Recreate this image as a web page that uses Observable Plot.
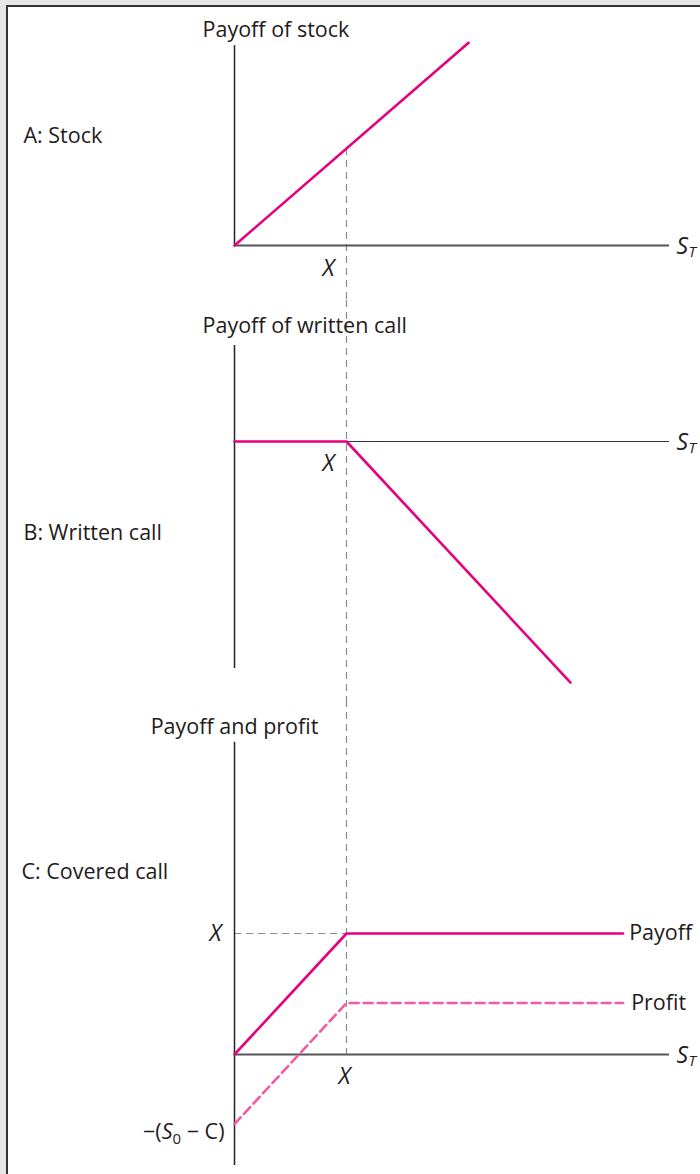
<!DOCTYPE html>
<html>
<head>
<meta charset="utf-8">
<script src="https://cdn.jsdelivr.net/npm/d3@7"></script>
<script src="https://cdn.jsdelivr.net/npm/@observablehq/plot@0.6"></script>
<style>
  html, body { margin: 0; padding: 0; }
  body { width: 700px; height: 1174px; background: #e6e6e6; position: relative; overflow: hidden; font-family: "Open Sans", sans-serif; }
  #frame { position: absolute; left: 6px; top: 5px; width: 692px; height: 1167px; background: #ffffff; border-top: 2px solid #333; border-left: 2px solid #333; }
  .panel { position: absolute; left: 0; }
</style>
</head>
<body>
<div id="frame"></div>
<div id="pA" class="panel" style="top:0px"></div>
<div id="pB" class="panel" style="top:300px"></div>
<div id="pC" class="panel" style="top:700px"></div>
<script>
// ---------- data (values in strike units) ----------
const strike = 1;                 // X
const axisEnd = 3.884;            // end of S_T axis
const panelLabels = ["A: Stock", "B: Written call", "C: Covered call"];
const panelTitles = ["Payoff of stock", "Payoff of written call", "Payoff and profit"];

// Panel A: stock
const stockST = [0, 2.09];
const stockPayoff = [0, 2.09];
const stockAxisY = [0, 2.06];

// Panel B: written call
const callST = [0, 1, 3.0];
const callPayoff = [0, 0, -2.0];
const callAxisY = [-1.884, 0.797];

// Panel C: covered call
const coveredST = [0, 1, 3.47];
const coveredPayoff = [0, 1, 1];
const coveredProfit = [-0.575, 0.425, 0.425];
const coveredAxisY = [-0.917, 2.58];
const netCost = -0.575;           // −(S0 − C)
const lineLabels = ["Payoff", "Profit"];

// scale domains for each panel
const domA = [-0.567, 2.526];
const domB = [-2.149, 1.170];
const domC = [-0.992, 2.926];

// ---------- styles ----------
const PINK = "#e6007e";
const PINK_LIGHT = "#f25aa5";
const GRAY_DASH = "#8c8c8c";
const TXT = "#1f1b1c";
const FONT = "Open Sans";
const FS = 21.5;

function pts(xs, ys) { return xs.map((x, i) => ({x, y: ys[i]})); }

function panel(height, yDomain, marks) {
  return Plot.plot({
    width: 700, height,
    marginLeft: 234, marginRight: 18, marginTop: 0, marginBottom: 0,
    x: {domain: [0, 4], axis: null},
    y: {domain: yDomain, axis: null},
    style: {background: "transparent", overflow: "visible", fontFamily: FONT, fontSize: "20px", color: TXT},
    marks
  });
}

function stLabel() {
  return [
    Plot.text([{x: axisEnd, y: 0}], {x: "x", y: "y", text: () => "S", fontStyle: "italic", fontSize: 23, textAnchor: "start", dx: 7, dy: 1, fill: TXT}),
    Plot.text([{x: axisEnd, y: 0}], {x: "x", y: "y", text: () => "T", fontStyle: "italic", fontSize: 15, textAnchor: "start", dx: 19, dy: 7, fill: TXT})
  ];
}

// ---------- Panel A ----------
const A = panel(300, domA, [
  Plot.ruleX([{x: strike, y1: strike, y2: domA[0]}], {x: "x", y1: "y1", y2: "y2", stroke: GRAY_DASH, strokeWidth: 1.2, strokeDasharray: "7,5"}),
  Plot.ruleY([0], {x1: 0, x2: axisEnd, stroke: "#555", strokeWidth: 2.2}),
  Plot.ruleX([0], {y1: stockAxisY[0], y2: stockAxisY[1], stroke: "#222", strokeWidth: 1.5}),
  Plot.line(pts(stockST, stockPayoff), {x: "x", y: "y", stroke: PINK, strokeWidth: 2.6}),
  Plot.text([{x: strike, y: 0}], {x: "x", y: "y", text: () => "X", fontStyle: "italic", fontSize: 23, dx: -18, dy: 23, fill: TXT}),
  ...stLabel(),
  Plot.text([panelTitles[0]], {frameAnchor: "top-left", textAnchor: "start", lineAnchor: "middle", dx: -32, dy: 30, fontSize: FS, fill: TXT}),
  Plot.text([panelLabels[0]], {frameAnchor: "top-left", textAnchor: "start", lineAnchor: "middle", dx: -211, dy: 136, fontSize: FS, fill: TXT})
]);

// ---------- Panel B ----------
const B = panel(400, domB, [
  Plot.ruleX([strike], {stroke: GRAY_DASH, strokeWidth: 1.2, strokeDasharray: "7,5"}),
  Plot.ruleY([0], {x1: 0, x2: axisEnd, stroke: "#333", strokeWidth: 1.2}),
  Plot.ruleX([0], {y1: callAxisY[0], y2: callAxisY[1], stroke: "#222", strokeWidth: 1.5}),
  Plot.line(pts(callST, callPayoff), {x: "x", y: "y", stroke: PINK, strokeWidth: 2.6}),
  Plot.text([{x: strike, y: 0}], {x: "x", y: "y", text: () => "X", fontStyle: "italic", fontSize: 23, dx: -18, dy: 22, fill: TXT}),
  ...stLabel(),
  Plot.text([panelTitles[1]], {frameAnchor: "top-left", textAnchor: "start", lineAnchor: "middle", dx: -32, dy: 26, fontSize: FS, fill: TXT}),
  Plot.text([panelLabels[1]], {frameAnchor: "top-left", textAnchor: "start", lineAnchor: "middle", dx: -211, dy: 233, fontSize: FS, fill: TXT})
]);

// ---------- Panel C ----------
const C = panel(474, domC, [
  Plot.ruleX([{x: strike, y1: domC[1], y2: 0}], {x: "x", y1: "y1", y2: "y2", stroke: GRAY_DASH, strokeWidth: 1.2, strokeDasharray: "7,5"}),
  Plot.ruleY([{y: strike}], {y: "y", x1: 0, x2: strike, stroke: GRAY_DASH, strokeWidth: 1.2, strokeDasharray: "7,5"}),
  Plot.ruleY([0], {x1: 0, x2: axisEnd, stroke: "#555", strokeWidth: 2.2}),
  Plot.ruleX([0], {y1: coveredAxisY[0], y2: coveredAxisY[1], stroke: "#222", strokeWidth: 1.5}),
  Plot.line(pts(coveredST, coveredProfit), {x: "x", y: "y", stroke: PINK_LIGHT, strokeWidth: 2.6, strokeDasharray: "9,5"}),
  Plot.line(pts(coveredST, coveredPayoff), {x: "x", y: "y", stroke: PINK, strokeWidth: 2.6}),
  Plot.text([{x: coveredST[2], y: coveredPayoff[2], t: lineLabels[0]}], {x: "x", y: "y", text: "t", textAnchor: "start", dx: 6, fontSize: FS, fill: TXT}),
  Plot.text([{x: coveredST[2], y: coveredProfit[2], t: lineLabels[1]}], {x: "x", y: "y", text: "t", textAnchor: "start", dx: 8, fontSize: FS, fill: TXT}),
  Plot.text([{x: 0, y: strike}], {x: "x", y: "y", text: () => "X", fontStyle: "italic", fontSize: 23, dx: -19, fill: TXT}),
  Plot.text([{x: strike, y: 0}], {x: "x", y: "y", text: () => "X", fontStyle: "italic", fontSize: 23, dx: -2, dy: 22, fill: TXT}),
  Plot.text([{x: 0, y: netCost}], {x: "x", y: "y", text: () => "NETCOST", textAnchor: "end", dx: -10, dy: 8, fontSize: FS, fill: TXT}),
  ...stLabel(),
  Plot.text([panelTitles[2]], {frameAnchor: "top-left", textAnchor: "middle", lineAnchor: "middle", dx: 0, dy: 27, fontSize: FS, fill: TXT}),
  Plot.text([panelLabels[2]], {frameAnchor: "top-left", textAnchor: "start", lineAnchor: "middle", dx: -213, dy: 172, fontSize: FS, fill: TXT})
]);

// rich text for −(S0 − C)
d3.select(C).selectAll("text").filter(function () { return this.textContent === "NETCOST"; }).each(function () {
  const t = d3.select(this);
  t.text(null);
  t.append("tspan").text("\u2212(");
  t.append("tspan").attr("font-style", "italic").text("S");
  t.append("tspan").attr("font-size", 15).attr("dy", 5).text("0");
  t.append("tspan").attr("dy", -5).text(" \u2212 C)");
});

document.getElementById("pA").appendChild(A);
document.getElementById("pB").appendChild(B);
document.getElementById("pC").appendChild(C);
</script>
</body>
</html>
